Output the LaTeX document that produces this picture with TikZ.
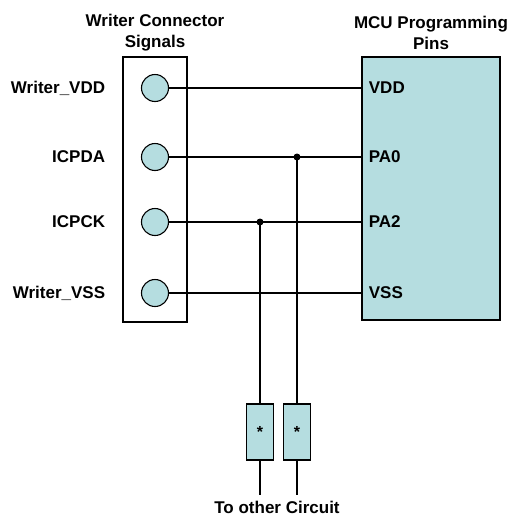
\documentclass[tikz,border=0pt]{standalone}
\usepackage{fontspec}
\setmainfont{Liberation Sans}
\usetikzlibrary{positioning}
\definecolor{pinfill}{RGB}{181,221,224}
\begin{document}
\begin{tikzpicture}[x=1pt,y=-1pt,line width=1.1pt,
  lbl/.style={font=\bfseries\fontsize{17}{21}\selectfont},
  pad/.style={circle,draw,fill=pinfill,minimum size=27pt,inner sep=0pt},
  res/.style={rectangle,draw,fill=pinfill,minimum width=27pt,minimum height=56pt,inner sep=0pt,font=\bfseries\fontsize{16}{16}\selectfont},
  dot/.style={circle,fill,inner sep=0pt,minimum size=7pt}]
\useasboundingbox (0,0) rectangle (512,517);
% boxes
\node[draw,minimum width=64pt,minimum height=265pt,inner sep=0pt] (conn) at (155,189.5) {};
\node[draw,fill=pinfill,minimum width=138pt,minimum height=263pt,inner sep=0pt] (mcu) at (431,188.5) {};
\node[lbl,align=center] (conntitle) at (155,32.5) {Writer Connector\\Signals};
\node[lbl,align=center] (mcutitle) at (431,32.5) {MCU Programming\\Pins};
% connector pads
\node[pad] (pvdd) at (155,88) {};
\node[pad] (pda) at (155,157) {};
\node[pad] (pck) at (155,222) {};
\node[pad] (pvss) at (155,293) {};
\node[lbl,anchor=east] (lvdd) at (109,88) {Writer\_VDD};
\node[lbl,anchor=east] (lda) at (109,157) {ICPDA};
\node[lbl,anchor=east] (lck) at (109,222) {ICPCK};
\node[lbl,anchor=east] (lvss) at (109,293) {Writer\_VSS};
% mcu pins
\node[lbl,anchor=west] (mvdd) at (365,88) {VDD};
\node[lbl,anchor=west] (mpa0) at (365,157) {PA0};
\node[lbl,anchor=west] (mpa2) at (365,222) {PA2};
\node[lbl,anchor=west] (mvss) at (365,293) {VSS};
\draw (pvdd) -- (pvdd -| mcu.west);
\draw (pda) -- (pda -| mcu.west);
\draw (pck) -- (pck -| mcu.west);
\draw (pvss) -- (pvss -| mcu.west);
% taps to other circuit
\node[dot] (jda) at (297,157) {};
\node[dot] (jck) at (260,222) {};
\node[res] (rck) at (260,432) {\raisebox{-3pt}{*}};
\node[res] (rda) at (297,432) {\raisebox{-3pt}{*}};
\coordinate (eck) at (260,495);
\coordinate (eda) at (297,495);
\draw (jck.center) -- (rck.north);
\draw (jda.center) -- (rda.north);
\draw (rck.south) -- (eck);
\draw (rda.south) -- (eda);
\node[lbl] (other) at (277,507) {To other Circuit};
\end{tikzpicture}
\end{document}
